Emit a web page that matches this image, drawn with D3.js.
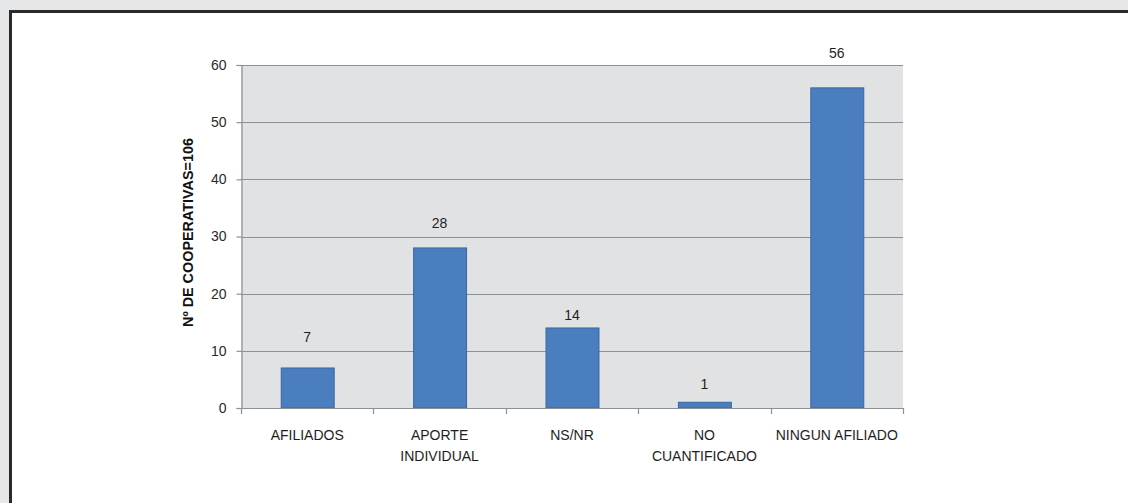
<!DOCTYPE html>
<html>
<head>
<meta charset="utf-8">
<script src="https://cdn.jsdelivr.net/npm/d3@7"></script>
<style>
  html, body { margin: 0; padding: 0; background: #e6e7e9; }
  svg { display: block; }
  text { font-family: "Liberation Sans", Arial, sans-serif; }
</style>
</head>
<body>
<svg id="chart" width="1128" height="503"></svg>
<script>
// ---- data ----
const categories = ["AFILIADOS", "APORTE INDIVIDUAL", "NS/NR", "NO CUANTIFICADO", "NINGUN AFILIADO"];
const categoryLines = [["AFILIADOS"], ["APORTE", "INDIVIDUAL"], ["NS/NR"], ["NO", "CUANTIFICADO"], ["NINGUN AFILIADO"]];
const values = [7, 28, 14, 1, 56];
const yTicks = [0, 10, 20, 30, 40, 50, 60];
const yTitle = "Nº DE COOPERATIVAS=106";

// ---- layout ----
const svg = d3.select("#chart");
const W = 1128, H = 503;

// outer frame
svg.append("rect").attr("x", 0).attr("y", 0).attr("width", W).attr("height", H).attr("fill", "#e6e7e9");
svg.append("rect").attr("x", 10.5).attr("y", 11.5).attr("width", W + 20).attr("height", H + 20)
  .attr("fill", "#ffffff").attr("stroke", "#2a2a2a").attr("stroke-width", 3);

const plot = { left: 241, right: 903, top: 65, bottom: 408 };

const x = d3.scaleBand().domain(categories).range([plot.left, plot.right]).paddingInner(0.6).paddingOuter(0.3);
const xEdge = d3.scaleBand().domain(categories).range([plot.left, plot.right]).padding(0);
const y = d3.scaleLinear().domain([0, 60]).range([plot.bottom, plot.top]);

// plot background
svg.append("rect")
  .attr("x", plot.left).attr("y", plot.top)
  .attr("width", plot.right - plot.left).attr("height", plot.bottom - plot.top)
  .attr("fill", "#e1e2e4");

// gridlines
svg.append("g").selectAll("line").data(yTicks.filter(d => d > 0)).join("line")
  .attr("x1", plot.left).attr("x2", plot.right)
  .attr("y1", d => Math.round(y(d)) + 0.5).attr("y2", d => Math.round(y(d)) + 0.5)
  .attr("stroke", "#8b9199").attr("stroke-width", 1.2);

// bars
svg.append("g").selectAll("rect").data(values).join("rect")
  .attr("x", (d, i) => x(categories[i]) + 0.5)
  .attr("y", d => y(d))
  .attr("width", x.bandwidth())
  .attr("height", d => y(0) - y(d))
  .attr("fill", "#4a7ebf")
  .attr("stroke", "#3867a3")
  .attr("stroke-width", 1);

// y axis
const yAxis = d3.axisLeft(y).tickValues(yTicks).tickSize(5).tickPadding(10);
const gy = svg.append("g").attr("transform", `translate(${plot.left + 0.5},0)`).call(yAxis);
gy.select(".domain").attr("stroke", "#8b9199").attr("stroke-width", 1.2);
gy.selectAll(".tick line").attr("stroke", "#8b9199").attr("stroke-width", 1.2);
gy.selectAll(".tick text").attr("font-size", 14).attr("fill", "#2a2a2a").attr("font-family", "Liberation Sans, Arial, sans-serif");

// x axis line with boundary ticks
const gx = svg.append("g");
gx.append("line").attr("x1", plot.left).attr("x2", plot.right)
  .attr("y1", plot.bottom + 0.5).attr("y2", plot.bottom + 0.5)
  .attr("stroke", "#8b9199").attr("stroke-width", 1.2);
const edges = categories.map(c => xEdge(c)).concat([plot.right]);
gx.selectAll("line.t").data(edges).join("line").attr("class", "t")
  .attr("x1", d => Math.round(d) + 0.5).attr("x2", d => Math.round(d) + 0.5)
  .attr("y1", plot.bottom).attr("y2", plot.bottom + 6)
  .attr("stroke", "#8b9199").attr("stroke-width", 1.2);

// x labels
categoryLines.forEach((lines, i) => {
  const cx = xEdge(categories[i]) + xEdge.bandwidth() / 2;
  const t = svg.append("text").attr("x", cx).attr("y", 440)
    .attr("text-anchor", "middle").attr("font-size", 14).attr("fill", "#1e1e1e");
  lines.forEach((ln, j) => {
    t.append("tspan").attr("x", cx).attr("dy", j === 0 ? 0 : 21).text(ln);
  });
});

// value labels (offsets above bar top, in px, as drawn in original)
const labelGap = [26, 20, 8, 13, 30];
svg.append("g").selectAll("text").data(values).join("text")
  .attr("x", (d, i) => xEdge(categories[i]) + xEdge.bandwidth() / 2)
  .attr("y", (d, i) => y(d) - labelGap[i])
  .attr("text-anchor", "middle").attr("font-size", 14).attr("fill", "#1e1e1e")
  .text(d => d);

// y title
svg.append("text")
  .attr("transform", "translate(193,232.5) rotate(-90)")
  .attr("text-anchor", "middle")
  .attr("font-size", 15).attr("font-weight", "bold").attr("fill", "#111")
  .attr("textLength", 189).attr("lengthAdjust", "spacingAndGlyphs")
  .text(yTitle);
</script>
</body>
</html>
